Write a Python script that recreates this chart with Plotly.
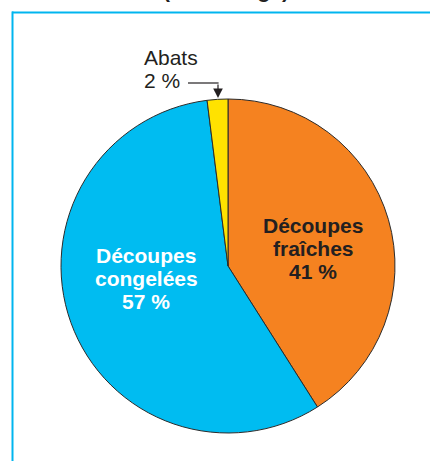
import plotly.graph_objects as go

W, H = 430, 461

# data
categories = ["Découpes fraîches", "Découpes congelées", "Abats"]
values = [41, 57, 2]
colors = ["#F58220", "#00BCF1", "#FFE200"]
title_text = "(en tonnage)"
orange_lines = ["Découpes", "fraîches", "41 %"]
cyan_lines = ["Découpes", "congelées", "57 %"]
abats_lines = ["Abats", "2 %"]


def px(x):
    return x / W


def py(y):
    return 1 - y / H


fig = go.Figure()
fig.add_trace(go.Pie(
    labels=categories,
    values=values,
    sort=False,
    direction="clockwise",
    rotation=0,
    textinfo="none",
    hoverinfo="label+percent",
    marker=dict(colors=colors, line=dict(color="#2b2b2b", width=1)),
    domain=dict(x=[px(61), px(395)], y=[py(433), py(99)]),
    showlegend=False,
))

annotations = []
font_b = "Liberation Sans, Arial, sans-serif"

# title, mostly cut off at the top (as in the source page)
annotations.append(dict(x=px(226), y=py(-9), xref="paper", yref="paper", text="<b>" + title_text + "</b>",
                        showarrow=False, xanchor="center", yanchor="middle",
                        font=dict(family=font_b, size=21, color="#231F20")))

for i, t in enumerate(orange_lines):
    annotations.append(dict(x=px(313), y=py(225 + 23 * i), xref="paper", yref="paper",
                            text="<b>" + t + "</b>", showarrow=False,
                            xanchor="center", yanchor="middle",
                            font=dict(family=font_b, size=21, color="#231F20")))

for i, t in enumerate(cyan_lines):
    annotations.append(dict(x=px(146), y=py(255 + 23 * i), xref="paper", yref="paper",
                            text="<b>" + t + "</b>", showarrow=False,
                            xanchor="center", yanchor="middle",
                            font=dict(family=font_b, size=21, color="white")))

for i, t in enumerate(abats_lines):
    annotations.append(dict(x=px(142), y=py(58 + 22 * i), xref="paper", yref="paper",
                            text=t, showarrow=False,
                            xanchor="left", yanchor="middle",
                            font=dict(family=font_b, size=21, color="#231F20")))

# arrow to the Abats slice
annotations.append(dict(x=px(218), y=py(98), xref="paper", yref="paper", text="",
                        showarrow=True, ax=0, ay=-15, arrowhead=2, arrowsize=1.6,
                        arrowwidth=1.2, arrowcolor="#231F20", standoff=0))

shapes = [
    # leader line
    dict(type="line", xref="paper", yref="paper", x0=px(188), x1=px(218.6), y0=py(83), y1=py(83),
         line=dict(color="#231F20", width=1.2)),
    # cyan frame
    dict(type="line", xref="paper", yref="paper", x0=px(12), x1=px(W + 2), y0=py(12.5), y1=py(12.5),
         line=dict(color="#00B5EF", width=2)),
    dict(type="line", xref="paper", yref="paper", x0=px(12.5), x1=px(12.5), y0=py(11.5), y1=py(H + 2),
         line=dict(color="#00B5EF", width=2)),
]

fig.update_layout(
    width=W,
    height=H,
    margin=dict(l=0, r=0, t=0, b=0),
    paper_bgcolor="white",
    plot_bgcolor="white",
    annotations=annotations,
    shapes=shapes,
    font=dict(family=font_b),
)

# page body has a default 8px margin, drop it so the figure fills the window
fig.write_html("out.html", config={"displayModeBar": False},
               post_script="document.body.style.margin='0px';")
